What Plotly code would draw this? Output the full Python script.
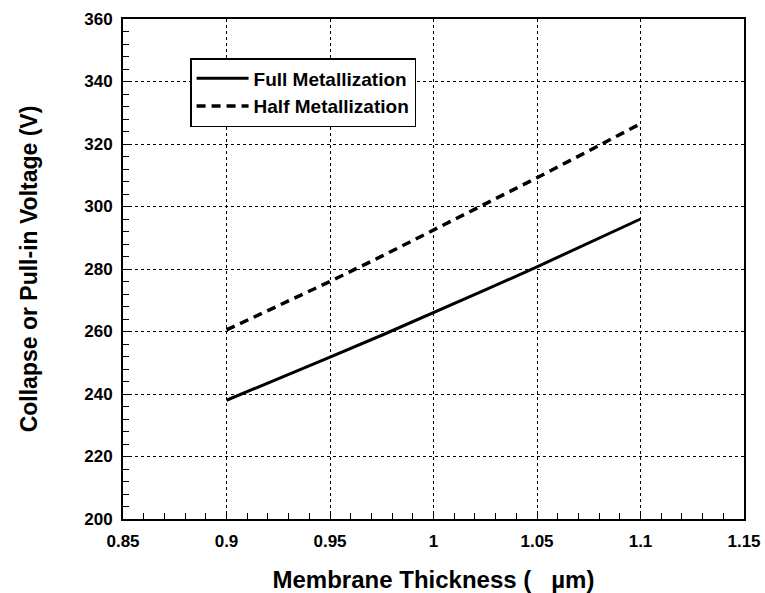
import plotly.graph_objects as go

# Membrane thickness (um) and collapse / pull-in voltage (V)
thickness = [0.9, 0.925, 0.95, 0.975, 1.0, 1.025, 1.05, 1.075, 1.1]
full_metal = [238.0, 244.8, 251.8, 258.8, 266.0, 273.3, 280.7, 288.3, 296.0]
half_metal = [260.5, 268.1, 276.0, 284.1, 292.4, 300.7, 309.2, 317.8, 326.5]

x_ticks = [0.85, 0.9, 0.95, 1.0, 1.05, 1.1, 1.15]
x_tick_text = ["0.85", "0.9", "0.95", "1", "1.05", "1.1", "1.15"]
y_ticks = [200, 220, 240, 260, 280, 300, 320, 340, 360]

FONT = "Liberation Sans, Arial, Helvetica, sans-serif"

fig = go.Figure()
fig.add_trace(go.Scatter(
    x=thickness, y=full_metal, mode="lines", name="Full Metallization",
    line=dict(color="black", width=3),
))
fig.add_trace(go.Scatter(
    x=thickness, y=half_metal, mode="lines", name="Half Metallization",
    line=dict(color="black", width=3.5, dash="9px,6px"),
))

axis_common = dict(
    showline=True, linecolor="black", linewidth=2, mirror=True,
    showgrid=True, gridcolor="black", gridwidth=1, griddash="dot",
    ticks="inside", ticklen=6, tickcolor="black", tickwidth=1,
    zeroline=False, automargin=False,
    tickfont=dict(family=FONT, size=17, color="black", weight="bold"),
)

fig.update_xaxes(
    range=[0.85, 1.15], tickvals=x_ticks, ticktext=x_tick_text,
    ticklabelstandoff=6,
    minor=dict(dtick=0.01, ticks="inside", ticklen=6, tickcolor="black", showgrid=False),
    title=dict(text="Membrane Thickness (\u00a0\u00a0\u00a0\u00b5m)", standoff=22,
               font=dict(family=FONT, size=24, color="black", weight="bold")),
    **axis_common,
)
fig.update_yaxes(
    range=[200, 360], tickvals=y_ticks,
    ticklabelstandoff=5,
    minor=dict(dtick=4, ticks="inside", ticklen=6, tickcolor="black", showgrid=False),
    title=dict(text="Collapse or Pull-in Voltage (V)", standoff=40,
               font=dict(family=FONT, size=23, color="black", weight="bold")),
    **axis_common,
)

fig.update_layout(
    width=765, height=593,
    margin=dict(l=123, r=21, t=19, b=74),
    paper_bgcolor="white", plot_bgcolor="white",
    showlegend=True,
    legend=dict(
        x=0.108, y=0.922, xanchor="left", yanchor="top",
        bgcolor="white", bordercolor="black", borderwidth=1.5,
        font=dict(family=FONT, size=19, color="black", weight="bold"),
        itemwidth=52, tracegroupgap=0,
    ),
)

fig.write_html("out.html")
